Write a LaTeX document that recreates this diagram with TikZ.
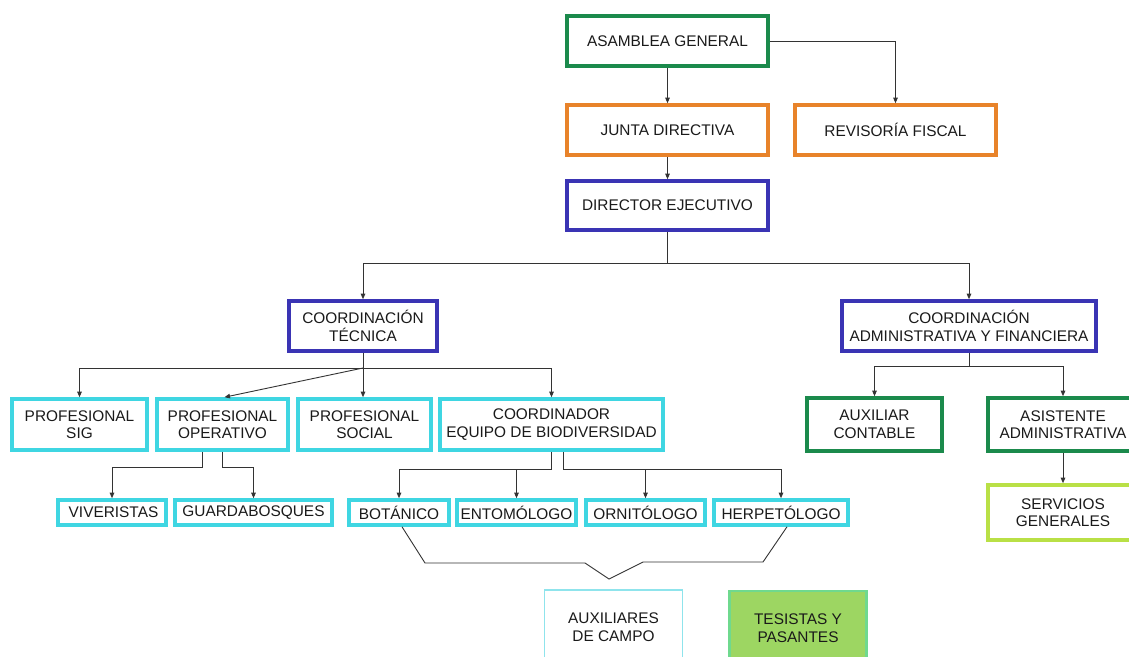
\documentclass[tikz,border=0pt]{standalone}
\usepackage{fontspec}
\setmainfont{Liberation Sans}
\usetikzlibrary{arrows.meta}
\definecolor{cgreen}{HTML}{1B8A4C}
\definecolor{corange}{HTML}{E8832A}
\definecolor{cblue}{HTML}{3A34B4}
\definecolor{ccyan}{HTML}{3FD6E2}
\definecolor{clime}{HTML}{B9E046}
\definecolor{cpale}{HTML}{8FE4EC}
\definecolor{tfill}{HTML}{9DD662}
\definecolor{tborder}{HTML}{6FD98E}
\definecolor{cline}{HTML}{333333}
\definecolor{ctext}{HTML}{1A1A1A}
\begin{document}
\begin{tikzpicture}[x=1pt,y=-1pt,
  box/.style={rectangle, line width=3.6pt, inner sep=0pt, align=center,
    text=ctext, font=\fontsize{15.4}{17.5}\selectfont, fill=white},
  conn/.style={draw=cline, line width=0.9pt},
  arr/.style={conn, -{Triangle[length=5.5pt,width=4.5pt]}}]
\fill[white] (0,0) rectangle (1129,656);
\clip (0,0) rectangle (1129,656);
\useasboundingbox (0,0) rectangle (1129,656);

% top levels
\node[box, draw=cgreen, minimum width=201pt, minimum height=50pt] (asam) at (667.5,41) {ASAMBLEA GENERAL};
\node[box, draw=corange, minimum width=201pt, minimum height=50pt] (junta) at (667.5,130) {JUNTA DIRECTIVA};
\node[box, draw=corange, minimum width=201pt, minimum height=50pt] (rev) at (895.5,130) {REVISORÍA FISCAL};
\node[box, draw=cblue, minimum width=201pt, minimum height=49pt] (dir) at (667.5,205.5) {DIRECTOR EJECUTIVO};

% coordinations
\node[box, draw=cblue, minimum width=148pt, minimum height=50pt] (ctec) at (363,326) {COORDINACIÓN\\TÉCNICA};
\node[box, draw=cblue, minimum width=254pt, minimum height=50pt] (cadm) at (969,326) {COORDINACIÓN\\ADMINISTRATIVA Y FINANCIERA};

% second row
\node[box, draw=ccyan, minimum width=135pt, minimum height=51pt] (psig) at (79.5,424.5) {PROFESIONAL\\SIG};
\node[box, draw=ccyan, minimum width=131pt, minimum height=51pt] (poper) at (222.5,424.5) {PROFESIONAL\\OPERATIVO};
\node[box, draw=ccyan, minimum width=133pt, minimum height=51pt] (psoc) at (364.5,424.5) {PROFESIONAL\\SOCIAL};
\node[box, draw=ccyan, minimum width=223pt, minimum height=51pt] (coordb) at (551.5,424.5) {COORDINADOR\\EQUIPO DE BIODIVERSIDAD};
\node[box, draw=cgreen, minimum width=135pt, minimum height=53pt] (auxc) at (874.5,424.5) {AUXILIAR\\CONTABLE};
\node[box, draw=cgreen, minimum width=150pt, minimum height=53pt] (asis) at (1063,424.5) {ASISTENTE\\ADMINISTRATIVA};

% third row
\node[box, draw=ccyan, minimum width=108pt, minimum height=25pt] (viver) at (112,512.5) {\hspace*{3pt}VIVERISTAS};
\node[box, draw=ccyan, minimum width=157pt, minimum height=25pt] (guard) at (253.5,512.5) {GUARDABOSQUES};
\node[box, draw=ccyan, minimum width=100pt, minimum height=25pt] (bot) at (399,512.5) {BOTÁNICO};
\node[box, draw=ccyan, minimum width=119pt, minimum height=25pt] (ento) at (516.5,512.5) {ENTOMÓLOGO};
\node[box, draw=ccyan, minimum width=119pt, minimum height=25pt] (orni) at (645.5,512.5) {ORNITÓLOGO};
\node[box, draw=ccyan, minimum width=134pt, minimum height=25pt] (herp) at (781,512.5) {HERPETÓLOGO};
\node[box, draw=clime, minimum width=150pt, minimum height=55pt] (serv) at (1063,512.5) {SERVICIOS\\GENERALES};

% bottom
\node[box, draw=cpale, line width=1.6pt, minimum width=138pt, minimum height=74pt] (auxcampo) at (613.5,627) {AUXILIARES\\DE CAMPO};
\node[box, draw=tborder, fill=tfill, line width=2.4pt, minimum width=137pt, minimum height=74pt] (tesis) at (798,628) {TESISTAS Y\\PASANTES};

% connectors top
\draw[arr] (asam.south) -- (junta.north);
\draw[arr] (junta.south) -- (dir.north);
\draw[arr] (asam.east) -| (rev.north);

\coordinate (dbus) at (667.5,263);
\draw[conn] (dir.south) -- (dbus);
\draw[arr] (dbus) -| (ctec.north);
\draw[arr] (dbus) -| (cadm.north);

% technical coordination
\coordinate (tbus) at (363,368);
\draw[conn] (ctec.south) -- (tbus);
\draw[arr] (tbus) -| (psig.north);
\draw[arr] (tbus) -- (tbus |- psoc.north);
\draw[arr] (tbus) -- ([xshift=2pt]poper.north);
\draw[arr] (tbus) -| (coordb.north);

% operativo
\draw[arr] ([xshift=-20.5pt]poper.south) -- ++(0,16) -| (viver.north);
\draw[arr] (poper.south) -- ++(0,16) -| (guard.north);

% biodiversidad
\coordinate (bl) at (551.5,469);
\coordinate (br) at (563,469);
\draw[arr] (coordb.south) -- (bl) -| (bot.north);
\draw[arr] (ento.north |- bl) -- (ento.north);
\draw[arr] (br |- coordb.south) -- (br) -| (herp.north);
\draw[arr] (orni.north |- br) -- (orni.north);

% bracket
\coordinate (k1) at (425,563);
\coordinate (k2) at (585,563);
\coordinate (k3) at (609,579);
\coordinate (k4) at (643,562);
\coordinate (k5) at (763,562);
\draw[conn] ([xshift=3pt]bot.south) -- (k1) -- (k2) -- (k3) -- (k4) -- (k5) -- ([xshift=6pt]herp.south);

% administrative coordination
\coordinate (abus) at (969,366);
\draw[conn] (cadm.south) -- (abus);
\draw[arr] (abus) -| (auxc.north);
\draw[arr] (abus) -| (asis.north);
\draw[arr] (asis.south) -- (serv.north);
\end{tikzpicture}
\end{document}
